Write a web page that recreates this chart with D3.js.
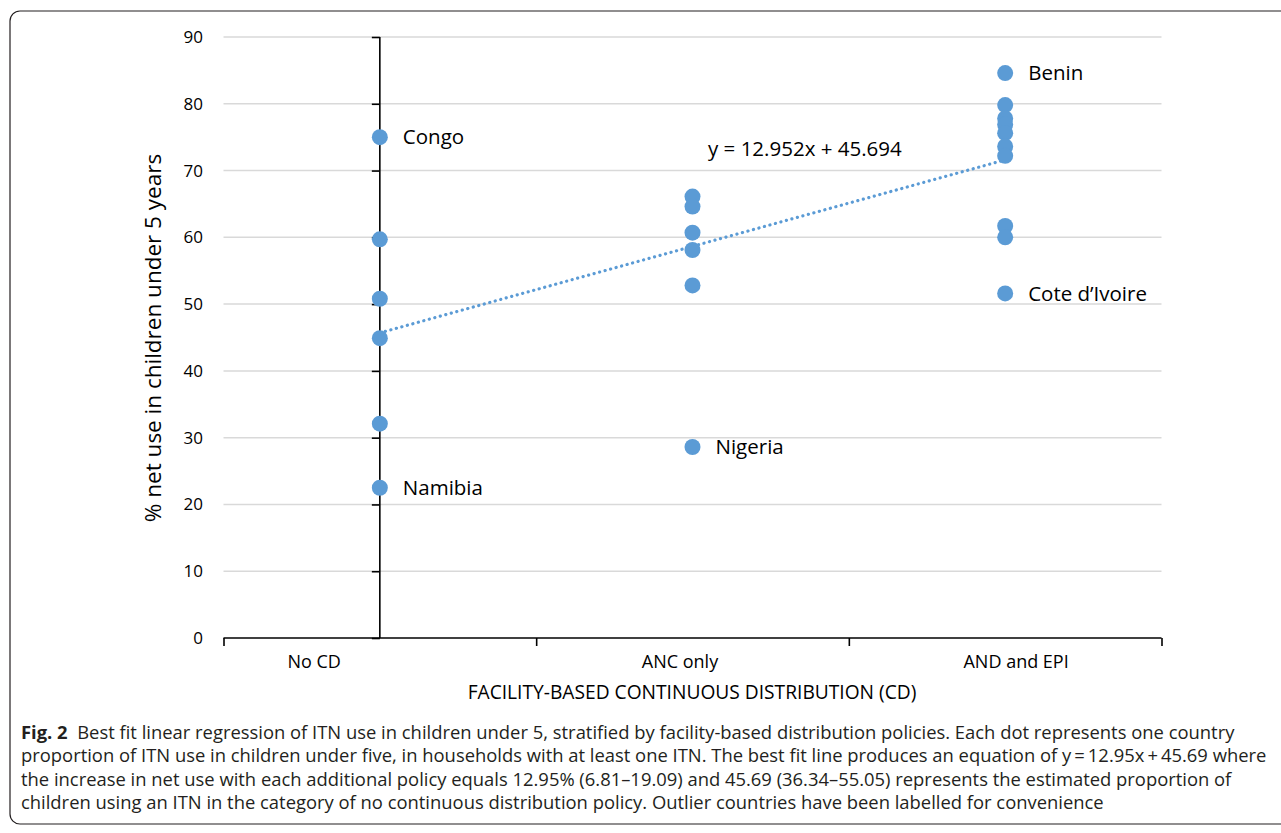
<!DOCTYPE html>
<html lang="en">
<head>
<meta charset="UTF-8">
<script src="https://cdnjs.cloudflare.com/ajax/libs/d3/7.8.5/d3.min.js"></script>
<title>Fig. 2</title>
<style>
  body { margin: 0; background: #fff; }
  svg text { font-family: "Open Sans", sans-serif; }
  .cap { font-size: 18.4px; fill: #231f20; }
</style>
</head>
<body>
<div id="draw-here"></div>
<script>
/* data */
var categories = ["No CD", "ANC only", "AND and EPI"];
var categoryLabelPos = [-0.21, 0.96, 2.035];   // labels sit off-centre in the original
var noCD = [75.0, 59.7, 50.8, 44.9, 32.1, 22.5];
var ancOnly = [66.1, 64.6, 60.7, 58.1, 52.8, 28.6];
var ancEpi = [84.6, 79.8, 77.8, 76.9, 75.6, 73.6, 72.2, 61.7, 60.0, 51.6];
var yTicks = [0, 10, 20, 30, 40, 50, 60, 70, 80, 90];
var slope = 12.952, intercept = 45.694;
var outliers = [
  { cat: 0, value: 75.0, name: "Congo" },
  { cat: 0, value: 22.5, name: "Namibia" },
  { cat: 1, value: 28.6, name: "Nigeria" },
  { cat: 2, value: 84.6, name: "Benin" },
  { cat: 2, value: 51.6, name: "Cote d\u2019Ivoire" }
];
var captionLines = [
  ["Fig. 2", "  Best fit linear regression of ITN use in children under 5, stratified by facility-based distribution policies. Each dot represents one country"],
  ["", "proportion of ITN use in children under five, in households with at least one ITN. The best fit line produces an equation of y\u2009=\u200912.95x\u2009+\u200945.69 where"],
  ["", "the increase in net use with each additional policy equals 12.95% (6.81\u201319.09) and 45.69 (36.34\u201355.05) represents the estimated proportion of"],
  ["", "children using an ITN in the category of no continuous distribution policy. Outlier countries have been labelled for convenience"]
];

var w = 1281, h = 833;
var blue = "#5b9bd5";

var svg = d3.select("#draw-here").append("svg")
  .attr("width", w).attr("height", h);

/* rounded frame */
svg.append("rect")
  .attr("x", 10).attr("y", 11).attr("width", 1300).attr("height", 813)
  .attr("rx", 10).attr("fill", "none").attr("stroke", "#231f20").attr("stroke-width", 1.2);

var x = d3.scaleLinear().domain([-0.5, 2.5]).range([223.5, 1161.5]);
var y = d3.scaleLinear().domain([0, 90]).range([638, 37]);

/* gridlines */
svg.append("g").selectAll("line")
  .data(yTicks.filter(function(d) { return d > 0; }))
  .enter().append("line")
  .attr("x1", x(-0.5)).attr("x2", x(2.5))
  .attr("y1", function(d) { return y(d); }).attr("y2", function(d) { return y(d); })
  .attr("stroke", "#d9d9d9").attr("stroke-width", 1.5);

/* y axis crosses at x = 0 */
var yAxis = svg.append("g")
  .attr("transform", "translate(" + x(0) + ",0)")
  .call(d3.axisLeft(y).tickValues(yTicks).tickSize(8).tickFormat(""));
yAxis.select(".domain").attr("stroke", "#000").attr("stroke-width", 1.6)
  .attr("d", "M0," + y(90) + "V" + y(0));
yAxis.selectAll(".tick line").attr("stroke", "#000").attr("stroke-width", 1.6);

/* y tick labels at the left of the plot */
svg.append("g").selectAll("text")
  .data(yTicks).enter().append("text")
  .attr("x", 203).attr("y", function(d) { return y(d); })
  .attr("dy", "0.35em").attr("text-anchor", "end")
  .attr("font-size", 17).attr("fill", "#000")
  .text(function(d) { return d; });

/* x axis with category ticks */
var xAxis = svg.append("g")
  .attr("transform", "translate(0," + y(0) + ")")
  .call(d3.axisBottom(x).tickValues([-0.5, 0.5, 1.5, 2.5]).tickSize(8).tickFormat(""));
xAxis.select(".domain").attr("stroke", "#000").attr("stroke-width", 1.6)
  .attr("d", "M" + x(-0.5) + ",0H" + x(2.5));
xAxis.selectAll(".tick line").attr("stroke", "#000").attr("stroke-width", 1.6);

svg.append("g").selectAll("text")
  .data(categories).enter().append("text")
  .attr("x", function(d, i) { return x(categoryLabelPos[i]); }).attr("y", 668)
  .attr("text-anchor", "middle").attr("font-size", 18).attr("fill", "#000")
  .text(function(d) { return d; });

/* axis titles */
svg.append("text")
  .attr("transform", "translate(161,338) rotate(-90)")
  .attr("text-anchor", "middle").attr("font-size", 22.5).attr("fill", "#000")
  .text("% net use in children under 5 years");

svg.append("text")
  .attr("x", 692).attr("y", 699)
  .attr("text-anchor", "middle").attr("font-size", 19.2).attr("fill", "#000")
  .text("FACILITY-BASED CONTINUOUS DISTRIBUTION (CD)");

/* trend line */
svg.append("line")
  .attr("x1", x(0)).attr("y1", y(intercept))
  .attr("x2", x(2)).attr("y2", y(intercept + 2 * slope))
  .attr("stroke", blue).attr("stroke-width", 3.2)
  .attr("stroke-linecap", "round").attr("stroke-dasharray", "0.1 5.6");

/* points */
var points = [];
[noCD, ancOnly, ancEpi].forEach(function(arr, i) {
  arr.forEach(function(v) { points.push({ cat: i, value: v }); });
});
svg.append("g").selectAll("circle")
  .data(points).enter().append("circle")
  .attr("cx", function(d) { return x(d.cat); })
  .attr("cy", function(d) { return y(d.value); })
  .attr("r", 8).attr("fill", blue);

/* outlier labels */
svg.append("g").selectAll("text")
  .data(outliers).enter().append("text")
  .attr("x", function(d) { return x(d.cat) + 23; })
  .attr("y", function(d) { return y(d.value); })
  .attr("dy", "0.35em").attr("font-size", 20.5).attr("fill", "#000")
  .text(function(d) { return d.name; });

/* equation */
svg.append("text")
  .attr("x", 708).attr("y", 149).attr("dy", "0.35em")
  .attr("font-size", 20.5).attr("fill", "#000")
  .text("y = " + slope + "x + " + intercept);

/* caption */
var cap = svg.append("g");
captionLines.forEach(function(line, i) {
  var t = cap.append("text").attr("class", "cap")
    .attr("x", 21).attr("y", 739 + i * 23.3)
    .attr("xml:space", "preserve");
  if (line[0]) t.append("tspan").attr("font-weight", "bold").text(line[0]);
  t.append("tspan").text(line[1]);
});
</script>
</body>
</html>
